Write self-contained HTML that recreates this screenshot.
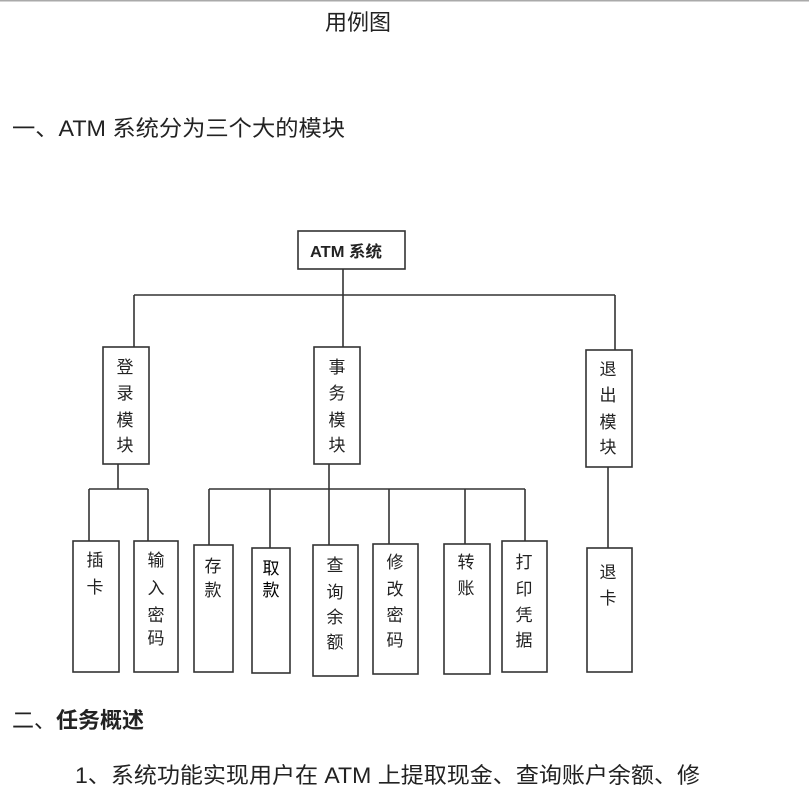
<!DOCTYPE html>
<html><head><meta charset="utf-8"><style>
html,body{margin:0;padding:0;background:#fff;}
body{width:809px;height:803px;overflow:hidden;position:relative;}
svg{position:absolute;left:0;top:0;}
text{font-family:"Liberation Sans","Noto Sans CJK SC",sans-serif;fill:#222;}
</style></head><body>
<svg width="809" height="803" viewBox="0 0 809 803">
<rect x="0" y="0" width="809" height="1.5" fill="#aaa"/>
<text x="358" y="30" font-size="22" text-anchor="middle">用例图</text>
<text x="12" y="136" font-size="22" textLength="333" lengthAdjust="spacingAndGlyphs">一、ATM 系统分为三个大的模块</text>
<text x="12" y="728" font-size="22">二、<tspan font-weight="bold">任务概述</tspan></text>
<text x="75" y="783" font-size="22" textLength="625" lengthAdjust="spacingAndGlyphs">1、系统功能实现用户在 ATM 上提取现金、查询账户余额、修</text>

<g stroke="#333" stroke-width="1.6" fill="none">
<rect x="298" y="231" width="107" height="38"/>
<line x1="343" y1="269" x2="343" y2="295"/>
<line x1="134" y1="295" x2="615" y2="295"/>
<line x1="134" y1="295" x2="134" y2="347"/>
<line x1="343" y1="295" x2="343" y2="347"/>
<line x1="615" y1="295" x2="615" y2="350"/>
<rect x="103" y="347" width="46" height="117"/>
<rect x="314" y="347" width="46" height="117"/>
<rect x="586" y="350" width="46" height="117"/>
<line x1="118" y1="464" x2="118" y2="489"/>
<line x1="89" y1="489" x2="148" y2="489"/>
<line x1="89" y1="489" x2="89" y2="541"/>
<line x1="148" y1="489" x2="148" y2="541"/>
<line x1="329" y1="464" x2="329" y2="545"/>
<line x1="209" y1="489" x2="525" y2="489"/>
<line x1="209" y1="489" x2="209" y2="545"/>
<line x1="270" y1="489" x2="270" y2="548"/>
<line x1="389" y1="489" x2="389" y2="544"/>
<line x1="465" y1="489" x2="465" y2="544"/>
<line x1="525" y1="489" x2="525" y2="541"/>
<line x1="608" y1="467" x2="608" y2="548"/>
<rect x="73" y="541" width="46" height="131"/>
<rect x="134" y="541" width="44" height="131"/>
<rect x="194" y="545" width="39" height="127"/>
<rect x="252" y="548" width="38" height="125"/>
<rect x="313" y="545" width="45" height="131"/>
<rect x="373" y="544" width="45" height="130"/>
<rect x="444" y="544" width="46" height="130"/>
<rect x="502" y="541" width="45" height="131"/>
<rect x="587" y="548" width="45" height="124"/>
</g>

<g font-size="17" text-anchor="middle">
<text x="346" y="257" font-size="16" font-weight="bold" textLength="72" lengthAdjust="spacingAndGlyphs">ATM 系统</text>
<text x="125" y="373">登</text><text x="125" y="399">录</text><text x="125" y="426">模</text><text x="125" y="451">块</text>
<text x="337" y="373">事</text><text x="337" y="399">务</text><text x="337" y="426">模</text><text x="337" y="451">块</text>
<text x="608" y="375">退</text><text x="608" y="401">出</text><text x="608" y="428">模</text><text x="608" y="453">块</text>
<text x="95" y="566">插</text><text x="95" y="593">卡</text>
<text x="156" y="566">输</text><text x="156" y="594">入</text><text x="156" y="621">密</text><text x="156" y="644">码</text>
<text x="213" y="572">存</text><text x="213" y="596">款</text>
<text x="271" y="574" style="fill:#000">取</text><text x="271" y="596" style="fill:#000">款</text>
<text x="335" y="571">查</text><text x="335" y="598">询</text><text x="335" y="623">余</text><text x="335" y="648">额</text>
<text x="395" y="568">修</text><text x="395" y="595">改</text><text x="395" y="621">密</text><text x="395" y="646">码</text>
<text x="466" y="568">转</text><text x="466" y="594">账</text>
<text x="524" y="568">打</text><text x="524" y="595">印</text><text x="524" y="621">凭</text><text x="524" y="646">据</text>
<text x="608" y="578">退</text><text x="608" y="604">卡</text>
</g>
</svg>
</body></html>
